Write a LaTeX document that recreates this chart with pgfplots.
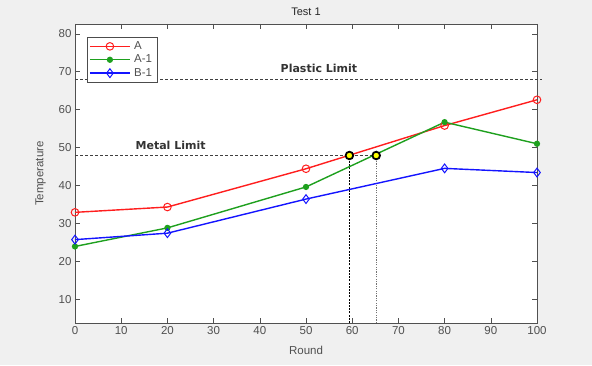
\documentclass[border=0pt]{standalone}
\usepackage{pgfplots}
\pgfplotsset{compat=1.18}
\usepackage{fontspec}
\setmainfont{Liberation Sans}
\newfontfamily\annfont{DejaVu Sans}
\definecolor{bg}{RGB}{240,240,240}
\definecolor{axc}{RGB}{80,80,80}
\definecolor{mred}{RGB}{255,30,30}
\definecolor{mgreen}{RGB}{30,160,30}
\definecolor{mblue}{RGB}{20,20,255}
\definecolor{myellow}{RGB}{255,255,0}
\begin{document}
\begin{tikzpicture}[x=1pt,y=1pt]
\fill[bg] (0,0) rectangle (592,365);
\useasboundingbox (0,0) rectangle (592,365);
\begin{axis}[
  at={(75pt,42pt)}, anchor=south west,
  scale only axis, width=462pt, height=299pt,
  xmin=0, xmax=100, ymin=3.7, ymax=82.6,
  xtick={0,10,...,100}, ytick={10,20,...,80},
  tick align=inside, major tick length=5pt,
  axis line style={axc}, tick style={axc, line width=0.5pt},
  tick label style={font=\fontsize{11.5}{13}\selectfont, text=axc},
  /pgf/number format/assume math mode=true,
  axis background/.style={fill=white},
  title={Test 1}, title style={font=\fontsize{11}{13}\selectfont, text=black!85, yshift=-1pt},
  xlabel={Round}, ylabel={Temperature},
  xlabel style={font=\fontsize{11.5}{13}\selectfont, text=axc, yshift=-5pt},
  ylabel style={font=\fontsize{11.5}{13}\selectfont, text=axc, yshift=6pt},
  clip=false,
  legend style={at={(0.026,0.955)}, anchor=north west, draw=black!70, fill=white,
    font=\fontsize{11.5}{13}\selectfont, text=axc, inner sep=2pt, row sep=0pt,
    cells={anchor=west}, nodes={inner xsep=3.5pt, inner ysep=2pt}},
  legend image code/.code={\draw[mark repeat=2,mark phase=2] plot coordinates {(0pt,0pt)(20pt,0pt)(40pt,0pt)};},
]
% limit lines
\addplot[forget plot, black!75, dash pattern=on 3pt off 2pt, line width=0.8pt] coordinates {(0,67.9) (101,67.9)};
\addplot[forget plot, black!75, dash pattern=on 3pt off 2pt, line width=0.8pt] coordinates {(0,47.9) (65.2,47.9)};
\addplot[forget plot, black, dash pattern=on 2pt off 1.2pt, line width=0.9pt] coordinates {(59.4,3.7) (59.4,47.9)};
\addplot[forget plot, black!55, dash pattern=on 1.2pt off 1.2pt, line width=1pt] coordinates {(65.2,3.7) (65.2,47.9)};
% series
\addplot[mred, line width=1.4pt, mark=o, mark size=3.8pt, mark options={line width=1pt}] coordinates {
(0,32.9) (20,34.3) (50,44.4) (80,55.8) (100,62.6)};
\addlegendentry{A}
\addplot[mgreen, line width=1.4pt, mark=*, mark size=2.4pt] coordinates {
(0,23.9) (20,28.8) (50,39.6) (80,56.7) (100,51.0)};
\addlegendentry{A-1}
\addplot[mblue, line width=1.4pt, mark=diamond, mark size=4.4pt, mark options={line width=1pt}] coordinates {
(0,25.7) (20,27.4) (50,36.4) (80,44.5) (100,43.4)};
\addlegendentry{B-1}
% intersection points
\addplot[forget plot, only marks, mark=*, mark size=3.8pt, mark options={fill=myellow, draw=black, line width=1.8pt}] coordinates {(59.4,47.9) (65.2,47.9)};
% annotations
\node[font=\annfont\bfseries\fontsize{11}{13}\selectfont, text=black!80] at (axis cs:52.8,70.8) {Plastic Limit};
\node[font=\annfont\bfseries\fontsize{11}{13}\selectfont, text=black!80] at (axis cs:20.7,50.6) {Metal Limit};
\end{axis}
\end{tikzpicture}
\end{document}
